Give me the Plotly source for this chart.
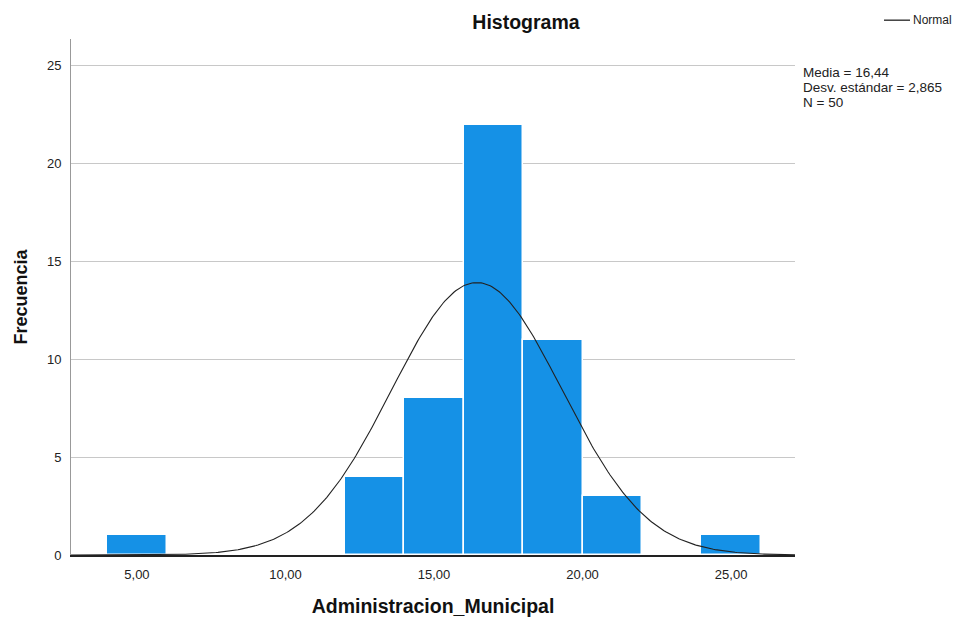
import numpy as np
import plotly.graph_objects as go

# Data
bin_starts = [4, 12, 14, 16, 18, 20, 24]
counts = [1, 4, 8, 22, 11, 3, 1]
bin_width = 2
mean_val = 16.44
sd_val = 2.865
n_val = 50
x_ticks = [5, 10, 15, 20, 25]
x_tick_labels = ["5,00", "10,00", "15,00", "20,00", "25,00"]
y_ticks = [0, 5, 10, 15, 20, 25]
stats_lines = ["Media = 16,44", "Desv. estándar = 2,865", "N = 50"]

centers = [s + bin_width / 2 for s in bin_starts]

xr = [2.78, 27.15]
xs = np.linspace(xr[0], xr[1], 400)
ys = n_val * bin_width / (sd_val * np.sqrt(2 * np.pi)) * np.exp(-0.5 * ((xs - mean_val) / sd_val) ** 2)

W, H = 953, 626
L, R, T, B = 71, 158, 39, 66
PW, PH = W - L - R, H - T - B

def px(p):
    return (p - L) / PW

def py(q):
    return (H - B - q) / PH

fig = go.Figure()
fig.add_trace(go.Bar(
    x=centers, y=counts, width=[bin_width] * len(centers),
    marker=dict(color="#1591E6", line=dict(color="white", width=1.5)),
    showlegend=False, hoverinfo="x+y",
))
fig.add_trace(go.Scatter(
    x=xs, y=ys, mode="lines", name="Normal", showlegend=False,
    line=dict(color="#222222", width=1.1),
))

fig.update_layout(
    width=W, height=H,
    margin=dict(l=L, r=R, t=T, b=B),
    plot_bgcolor="white", paper_bgcolor="white",
    font=dict(family="Liberation Sans, Arial, sans-serif", color="#222", size=13),
    title=dict(text="<b>Histograma</b>", x=526 / W, xref="container", xanchor="center",
               y=1 - 22 / H, yref="container", yanchor="middle", font=dict(size=19.5, color="#111")),
    bargap=0,
    xaxis=dict(range=xr, tickvals=x_ticks, ticktext=x_tick_labels,
               showgrid=False, zeroline=False, showline=True, linecolor="#222", linewidth=1.5,
               ticks="", ticklabelstandoff=7, tickfont=dict(size=13, color="#222"),
               title=dict(text="<b>Administracion_Municipal</b>", font=dict(size=19.5, color="#111"), standoff=18)),
    yaxis=dict(range=[0, 26.37], tickvals=y_ticks, showgrid=True, gridcolor="#C8C8C8", gridwidth=1,
               zeroline=False, showline=True, linecolor="#999", linewidth=1,
               ticks="", ticklabelstandoff=6, tickfont=dict(size=13, color="#222"),
               title=dict(text="<b>Frecuencia</b>", font=dict(size=18, color="#111"), standoff=14)),
)

# stats text, one line per annotation
for i, line in enumerate(stats_lines):
    fig.add_annotation(
        xref="paper", yref="paper", x=px(801), y=py(73 + 15 * i),
        xanchor="left", yanchor="middle", align="left", showarrow=False,
        text=line, font=dict(size=13.5, color="#222"),
    )

# legend: line + label
fig.add_shape(type="line", xref="paper", yref="paper",
              x0=px(884), x1=px(910), y0=py(20), y1=py(20),
              line=dict(color="#222", width=1.3))
fig.add_annotation(
    xref="paper", yref="paper", x=px(911), y=py(20),
    xanchor="left", yanchor="middle", showarrow=False,
    text="Normal", font=dict(size=12, color="#222"),
)

fig.write_html("out.html", config={"displayModeBar": False},
               post_script="document.body.style.margin='0';document.body.style.overflow='hidden';")
